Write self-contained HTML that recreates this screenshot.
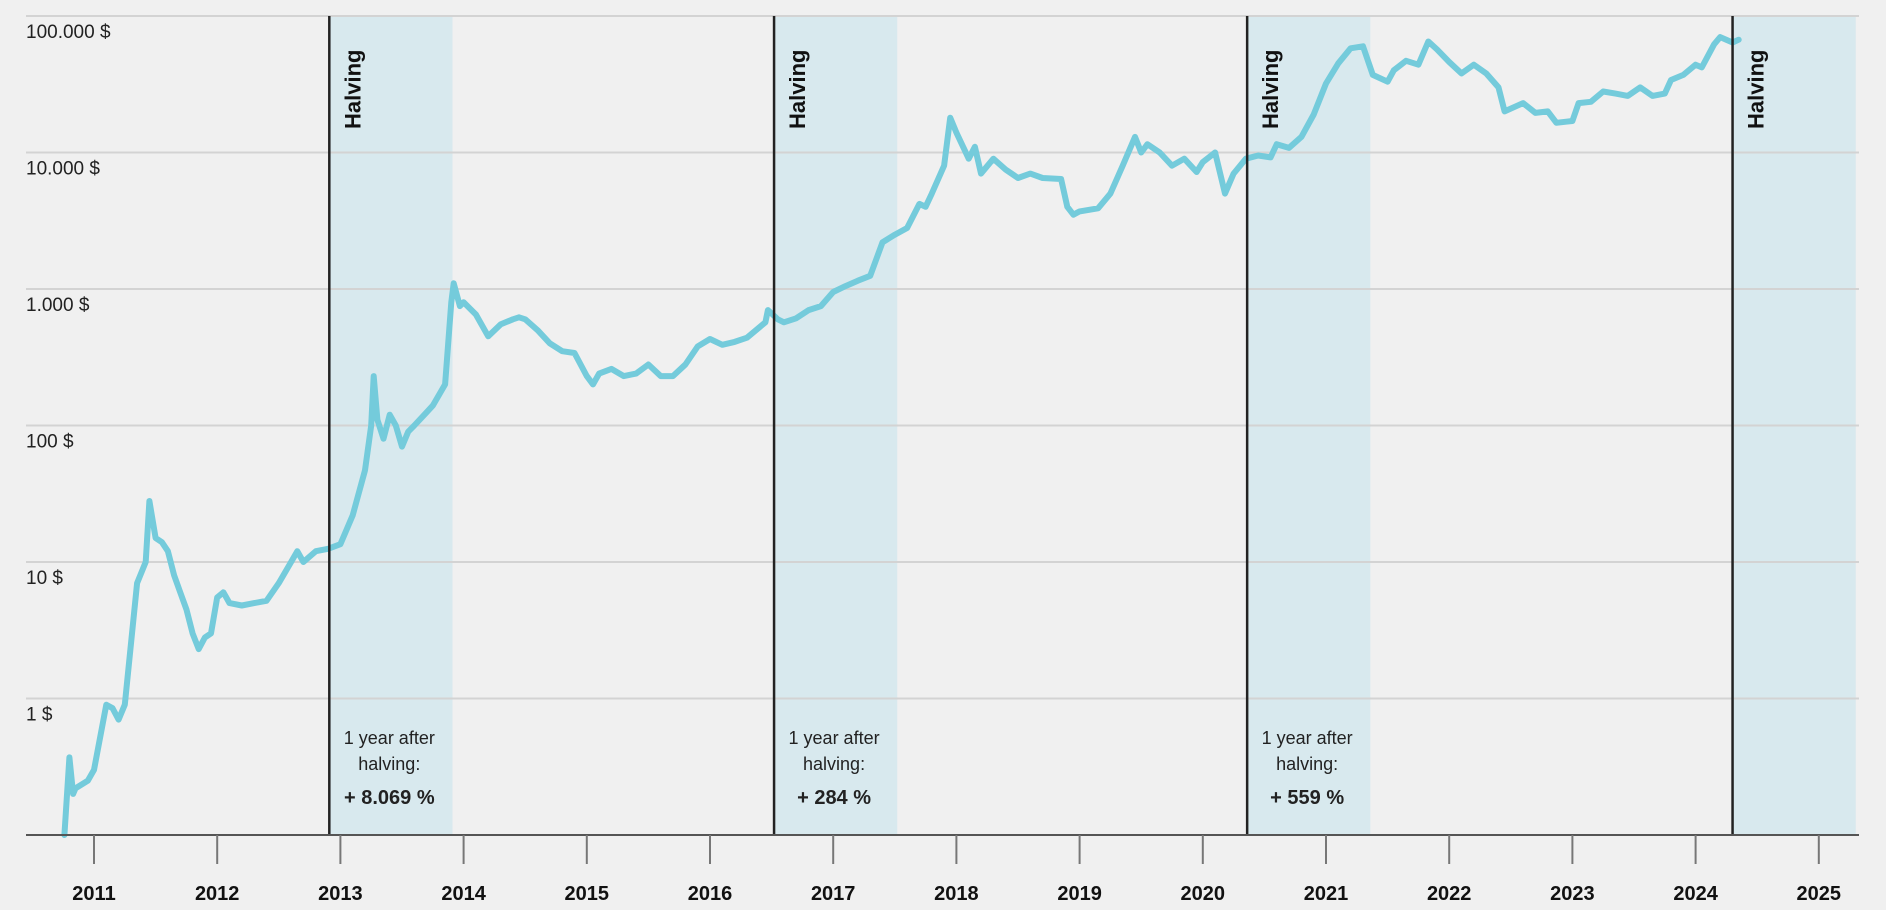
<!DOCTYPE html>
<html><head><meta charset="utf-8"><style>
html,body{margin:0;padding:0;background:#f0f0f0;}
svg{display:block;font-family:"Liberation Sans",sans-serif;}
</style></head><body>
<svg id="chart" width="1886" height="910" viewBox="0 0 1886 910"></svg>
<script>
const years=[2011,2012,2013,2014,2015,2016,2017,2018,2019,2020,2021,2022,2023,2024,2025];
const yTickValues=[1e5,1e4,1e3,100,10,1];
const yTickLabels=["100.000 $","10.000 $","1.000 $","100 $","10 $","1 $"];
const halvings=[2012.91,2016.52,2020.36,2024.30];
const halvingGains=["+ 8.069 %","+ 284 %","+ 559 %",null];
const dates=[2010.76,2010.8,2010.83,2010.85,2010.95,2011.0,2011.1,2011.15,2011.2,2011.25,2011.35,2011.42,2011.45,2011.5,2011.55,2011.6,2011.65,2011.7,2011.75,2011.8,2011.85,2011.9,2011.95,2012.0,2012.05,2012.1,2012.2,2012.3,2012.4,2012.5,2012.6,2012.65,2012.7,2012.8,2012.9,2013.0,2013.1,2013.2,2013.25,2013.27,2013.3,2013.35,2013.4,2013.45,2013.5,2013.55,2013.6,2013.7,2013.75,2013.85,2013.9,2013.92,2013.97,2014.0,2014.1,2014.2,2014.3,2014.4,2014.45,2014.5,2014.6,2014.7,2014.8,2014.9,2015.0,2015.05,2015.1,2015.2,2015.3,2015.4,2015.5,2015.6,2015.7,2015.8,2015.9,2016.0,2016.1,2016.2,2016.3,2016.45,2016.47,2016.55,2016.6,2016.7,2016.8,2016.9,2017.0,2017.1,2017.2,2017.3,2017.4,2017.5,2017.6,2017.7,2017.75,2017.8,2017.9,2017.95,2018.0,2018.1,2018.15,2018.2,2018.3,2018.4,2018.5,2018.6,2018.7,2018.85,2018.9,2018.95,2019.0,2019.15,2019.25,2019.35,2019.45,2019.5,2019.55,2019.65,2019.75,2019.85,2019.95,2020.0,2020.1,2020.18,2020.25,2020.35,2020.45,2020.55,2020.6,2020.7,2020.8,2020.9,2021.0,2021.1,2021.2,2021.3,2021.38,2021.5,2021.55,2021.65,2021.75,2021.83,2021.9,2022.0,2022.1,2022.2,2022.3,2022.4,2022.45,2022.55,2022.6,2022.7,2022.8,2022.87,2022.95,2023.0,2023.05,2023.15,2023.25,2023.35,2023.45,2023.55,2023.65,2023.75,2023.8,2023.9,2024.0,2024.05,2024.15,2024.2,2024.3,2024.35];
const prices=[0.1,0.37,0.2,0.22,0.25,0.3,0.9,0.85,0.7,0.9,7,10,28,15,14,12,8,6,4.5,3,2.3,2.8,3,5.5,6,5,4.8,5,5.2,7,10,12,10,12,12.5,13.5,22,47,100,230,110,80,120,100,70,90,100,125,140,200,800,1100,750,800,650,450,550,600,620,600,500,400,350,340,230,200,240,260,230,240,280,230,230,280,380,430,390,410,440,570,700,600,570,610,700,750,950,1050,1150,1250,2200,2500,2800,4200,4000,5000,8000,18000,14000,9000,11000,7000,9000,7500,6500,7000,6500,6400,4000,3500,3700,3900,5000,8000,13000,10000,11500,10000,8000,9000,7200,8500,10000,5000,7000,9000,9500,9200,11500,10800,13000,19000,32000,45000,58000,60000,37000,33000,40000,47000,44000,65000,57000,46000,38000,44000,38000,30000,20000,22000,23000,19500,20000,16500,16800,17000,23000,23500,28000,27000,26000,30000,26000,27000,34000,37000,44000,42000,62000,70000,64000,67000];

const NS="http://www.w3.org/2000/svg";
const svg=document.getElementById('chart');
const X0=26,X1=1859,YT=16,YB=835;
const xS=y=>94+(y-2011)*123.2;
const yS=p=>YB-136.5*(Math.log10(p)+1);
function mk(tag,attrs,parent){const e=document.createElementNS(NS,tag);for(const k in attrs)e.setAttribute(k,attrs[k]);(parent||svg).appendChild(e);return e;}

halvings.forEach((h,i)=>{
  const r=mk('rect',{x:xS(h),y:YT,width:Math.min(123.2,X1-xS(h)),height:YB-YT,fill:'#d8e9ee'});
  
  
});
yTickValues.forEach((v,i)=>{
  const l=mk('line',{x1:X0,x2:X1,y1:yS(v),y2:yS(v),stroke:'#d3d3d3','stroke-width':2});
  
  
  const t=mk('text',{x:26,y:yS(v)+22,'font-size':19,fill:'#222'});
  t.textContent=yTickLabels[i];
  
  
});
let d='';dates.forEach((dt,i)=>{d+=(i?'L':'M')+xS(dt).toFixed(1)+','+yS(prices[i]).toFixed(1);});
const pl=mk('path',{d:d,fill:'none',stroke:'#74cbdb','stroke-width':6,'stroke-linejoin':'round','stroke-linecap':'round'});


halvings.forEach((h,i)=>{
  const x=xS(h);
  const l=mk('line',{x1:x,x2:x,y1:YT,y2:YB,stroke:'#222','stroke-width':2.5});
  
  
  const t=mk('text',{x:0,y:0,'font-size':22,'font-weight':'bold',fill:'#111',transform:`translate(${x+31},129) rotate(-90)`});
  t.textContent='Halving';
  
  
  if(halvingGains[i]){
    const cx=x+60;
    [['1 year after',744,18,'normal'],['halving:',770,18,'normal'],[halvingGains[i],804,20,'bold']].forEach(([s,y,fs,fw])=>{
      const tt=mk('text',{x:cx,y:y,'font-size':fs,'font-weight':fw,'text-anchor':'middle',fill:'#222'});
      tt.textContent=s;
      
      
    });
  }
});
const ax=mk('line',{x1:X0,x2:X1,y1:YB,y2:YB,stroke:'#555','stroke-width':2});


years.forEach(yr=>{
  const x=xS(yr);
  const tk=mk('line',{x1:x,x2:x,y1:YB,y2:864,stroke:'#777','stroke-width':2});
  
  
  const t=mk('text',{x:x,y:900,'font-size':20,'font-weight':'bold','text-anchor':'middle',fill:'#111'});
  t.textContent=yr;
  
  
});
</script>
</body></html>
